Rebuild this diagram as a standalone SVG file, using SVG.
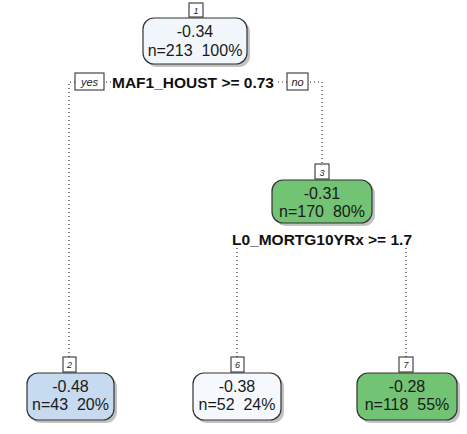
<svg xmlns="http://www.w3.org/2000/svg" width="467" height="434" viewBox="0 0 467 434">
<style>
  .dot{fill:none;stroke:#222;stroke-width:1.1;stroke-dasharray:1 3}
  .box{stroke:#333;stroke-width:1.2}
  .shadow{fill:#a8a8a8;opacity:0.7}
  .val{font-family:"Liberation Sans",Arial,sans-serif;font-size:16px;fill:#1a1a1a;text-anchor:middle;white-space:pre}
  .idx{font-family:"Liberation Sans",Arial,sans-serif;font-size:9px;font-style:italic;fill:#223;text-anchor:middle}
  .ibox{fill:#fff;stroke:#222;stroke-width:1}
  .split{font-family:"Liberation Sans",Arial,sans-serif;font-size:15.5px;font-weight:bold;fill:#111;text-anchor:middle}
  .yn{font-family:"Liberation Sans",Arial,sans-serif;font-size:11px;font-style:italic;fill:#222;text-anchor:middle}
</style>
<rect width="467" height="434" fill="#fff"/>
<g id="connectors">
  <polyline class="dot" points="69,357 69,82 322,82 322,164"/>
  <line class="dot" x1="237" y1="248" x2="237" y2="357"/>
  <line class="dot" x1="406" y1="248" x2="406" y2="357"/>
</g>
<g id="split1">
  <rect x="111" y="74" width="164" height="17" fill="#fff"/>
  <text class="split" x="193" y="88">MAF1_HOUST &gt;= 0.73</text>
  <rect class="ibox" x="75" y="73" width="29" height="17"/>
  <text class="yn" x="89.5" y="86">yes</text>
  <rect class="ibox" x="287" y="73" width="21" height="17"/>
  <text class="yn" x="297.5" y="86">no</text>
</g>
<g id="split3">
  <rect x="230" y="232" width="184" height="16" fill="#fff"/>
  <text class="split" x="322" y="245">L0_MORTG10YRx &gt;= 1.7</text>
</g>
<g id="node1">
  <rect class="shadow" x="146" y="21" width="104" height="46" rx="11"/>
  <rect class="box" x="143" y="18" width="104" height="46" rx="11" fill="#f1f6fd"/>
  <text class="val" x="195" y="37">-0.34</text>
  <text class="val" x="195" y="56">n=213  100%</text>
  <rect class="ibox" x="189" y="3" width="14" height="14"/>
  <text class="idx" x="196" y="14">1</text>
</g>
<g id="node3">
  <rect class="shadow" x="275" y="183" width="100" height="43" rx="11"/>
  <rect class="box" x="272" y="180" width="100" height="43" rx="11" fill="#72c373"/>
  <text class="val" x="322" y="199">-0.31</text>
  <text class="val" x="322" y="217">n=170  80%</text>
  <rect class="ibox" x="315" y="164" width="14" height="15"/>
  <text class="idx" x="322" y="176">3</text>
</g>
<g id="node2">
  <rect class="shadow" x="30" y="376" width="87" height="47" rx="11"/>
  <rect class="box" x="27" y="373" width="87" height="47" rx="11" fill="#c6dbef"/>
  <text class="val" x="70.5" y="392">-0.48</text>
  <text class="val" x="70.5" y="410">n=43  20%</text>
  <rect class="ibox" x="63" y="357" width="13" height="15"/>
  <text class="idx" x="69.5" y="368">2</text>
</g>
<g id="node6">
  <rect class="shadow" x="196" y="376" width="88" height="47" rx="11"/>
  <rect class="box" x="193" y="373" width="88" height="47" rx="11" fill="#f5f9fe"/>
  <text class="val" x="237" y="392">-0.38</text>
  <text class="val" x="237" y="410">n=52  24%</text>
  <rect class="ibox" x="231" y="357" width="13" height="15"/>
  <text class="idx" x="237.5" y="368">6</text>
</g>
<g id="node7">
  <rect class="shadow" x="360" y="376" width="100" height="47" rx="11"/>
  <rect class="box" x="357" y="373" width="100" height="47" rx="11" fill="#72c373"/>
  <text class="val" x="407" y="392">-0.28</text>
  <text class="val" x="407" y="410">n=118  55%</text>
  <rect class="ibox" x="399" y="357" width="14" height="15"/>
  <text class="idx" x="406" y="368">7</text>
</g>
</svg>
